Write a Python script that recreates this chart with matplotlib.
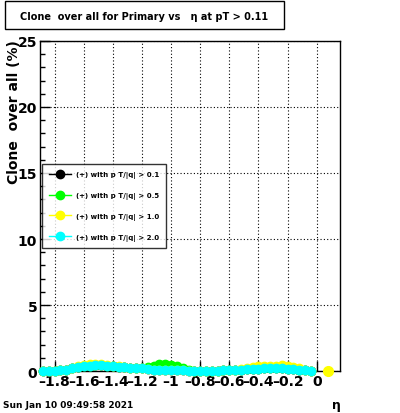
import numpy as np
import matplotlib
matplotlib.use("Agg")
from matplotlib import pyplot as plt
from matplotlib.patches import Rectangle
from matplotlib.lines import Line2D
from matplotlib.ticker import MultipleLocator

# eta bin centres (width 0.04)
eta = [-1.88, -1.84, -1.80, -1.76, -1.72, -1.68, -1.64, -1.60, -1.56, -1.52,
       -1.48, -1.44, -1.40, -1.36, -1.32, -1.28, -1.24, -1.20, -1.16, -1.12,
       -1.08, -1.04, -1.00, -0.96, -0.92, -0.88, -0.84, -0.80, -0.76, -0.72,
       -0.68, -0.64, -0.60, -0.56, -0.52, -0.48, -0.44, -0.40, -0.36, -0.32,
       -0.28, -0.24, -0.20, -0.16, -0.12, -0.08, -0.04]

clone_pt01 = [0.0, 0.0, 0.0, 0.05, 0.1, 0.2, 0.3, 0.35, 0.4, 0.45,
              0.45, 0.4, 0.35, 0.3, 0.3, 0.25, 0.2, 0.2, 0.15, 0.1,
              0.1, 0.05, 0.05, 0.05, 0.05, 0.0, 0.0, 0.0, 0.0, 0.0,
              0.0, 0.05, 0.05, 0.1, 0.1, 0.15, 0.15, 0.15, 0.2, 0.2,
              0.2, 0.2, 0.15, 0.15, 0.1, 0.05, 0.0]
clone_pt05 = [0.0, 0.0, 0.0, 0.05, 0.1, 0.2, 0.3, 0.35, 0.4, 0.45,
              0.45, 0.4, 0.35, 0.3, 0.3, 0.25, 0.2, 0.25, 0.3, 0.4,
              0.5, 0.5, 0.45, 0.35, 0.25, 0.05, 0.0, 0.0, 0.0, 0.0,
              0.0, 0.05, 0.05, 0.1, 0.1, 0.15, 0.15, 0.15, 0.2, 0.2,
              0.2, 0.2, 0.15, 0.15, 0.1, 0.05, 0.0]
clone_pt10 = [0.0, 0.0, 0.0, 0.05, 0.1, 0.2, 0.35, 0.45, 0.5, 0.5,
              0.5, 0.45, 0.4, 0.35, 0.3, 0.25, 0.2, 0.2, 0.15, 0.1,
              0.1, 0.1, 0.1, 0.05, 0.05, 0.0, 0.0, 0.0, 0.0, 0.0,
              0.0, 0.05, 0.05, 0.1, 0.15, 0.2, 0.3, 0.35, 0.35, 0.4,
              0.4, 0.45, 0.35, 0.3, 0.2, 0.05, 0.0]
clone_pt20 = [0.0, 0.0, 0.0, 0.05, 0.1, 0.2, 0.3, 0.35, 0.4, 0.45,
              0.45, 0.4, 0.35, 0.3, 0.3, 0.25, 0.2, 0.2, 0.15, 0.1,
              0.1, 0.05, 0.05, 0.05, 0.05, 0.0, 0.0, 0.0, 0.0, 0.0,
              0.0, 0.05, 0.05, 0.1, 0.1, 0.15, 0.15, 0.15, 0.2, 0.2,
              0.2, 0.2, 0.15, 0.15, 0.1, 0.05, 0.0]
# extra yellow point past the last bin
eta_extra = [0.08]
clone_pt10_extra = [0.0]

xtick_vals = [-1.8, -1.6, -1.4, -1.2, -1.0, -0.8, -0.6, -0.4, -0.2, 0.0]
xtick_labels = ["\u20131.8", "\u20131.6", "\u20131.4", "\u20131.2", "\u20131",
                "\u20130.8", "\u20130.6", "\u20130.4", "\u20130.2", "0"]

series = [
    (clone_pt01, "black", "(+) with p T/|q| > 0.1"),
    (clone_pt05, "#00ff00", "(+) with p T/|q| > 0.5"),
    (clone_pt10, "#ffff00", "(+) with p T/|q| > 1.0"),
    (clone_pt20, "#00ffff", "(+) with p T/|q| > 2.0"),
]

plt.rcParams['font.family'] = 'DejaVu Sans'
plt.rcParams['font.weight'] = 'bold'
fig = plt.figure(figsize=(4, 4.14), dpi=100)
ax = fig.add_axes([0.1, 0.1014, 0.75, 0.7972])

for vals, col, lab in series:
    ax.errorbar(eta, vals, xerr=0.02, fmt='o', color=col, ms=6, mec=col,
                elinewidth=1, capsize=0, clip_on=False, zorder=3)
    if col == "#ffff00":
        ax.errorbar(eta_extra, clone_pt10_extra, xerr=0.02, fmt='o', color=col,
                    ms=7, mec=col, elinewidth=1, capsize=0, clip_on=False, zorder=3)

ax.set_xlim(-1.9, 0.16)
ax.set_ylim(0, 25)
ax.set_xticks(xtick_vals)
ax.set_xticklabels(xtick_labels)
ax.yaxis.set_major_locator(MultipleLocator(5))
ax.yaxis.set_minor_locator(MultipleLocator(1))
ax.tick_params(which='both', direction='in', top=False, right=False,
               labelsize=10, width=1)
ax.tick_params(which='major', length=7, pad=2)
ax.tick_params(which='minor', length=3.5)
for t in ax.get_xticklabels() + ax.get_yticklabels():
    t.set_fontweight('bold')
ax.grid(True, which='major', color='black', linestyle=(0, (1, 2)), linewidth=0.8)
for s in ax.spines.values():
    s.set_linewidth(1)

# legend
handles = [Line2D([0], [0], color=col, marker='o', ms=6, lw=1) for _, col, _ in series]
labels = [lab for _, _, lab in series]
leg = fig.legend(handles, labels, loc='upper left', bbox_to_anchor=(0.105, 0.601),
                 bbox_transform=fig.transFigure, fontsize=5, frameon=True,
                 fancybox=False, edgecolor='black', borderpad=1.0,
                 labelspacing=2.0, handlelength=3.2, handletextpad=0.7,
                 borderaxespad=0)
leg.get_frame().set_linewidth(1)
for t in leg.get_texts():
    t.set_fontweight('bold')

# title box
fig.patches.append(Rectangle((5 / 400, 1 - 30 / 414), 279 / 400, 28 / 414,
                             transform=fig.transFigure, facecolor='white',
                             edgecolor='black', linewidth=1))
fig.text(0.36, 1 - 17 / 414, "Clone  over all for Primary vs   \u03b7 at pT > 0.11",
         ha='center', va='center', fontsize=7, fontweight='bold')

fig.text(0.035, 1 - 40 / 414, "Clone  over all (%)", rotation=90,
         ha='center', va='top', fontsize=10, fontweight='bold')
fig.text(0.84, 1 - 406 / 414, "\u03b7", ha='center', va='center', fontsize=9)
fig.text(0.008, 1 - 406 / 414, "Sun Jan 10 09:49:58 2021", ha='left',
         va='center', fontsize=6.5, fontweight='bold')

fig.savefig("out.png", dpi=100)
